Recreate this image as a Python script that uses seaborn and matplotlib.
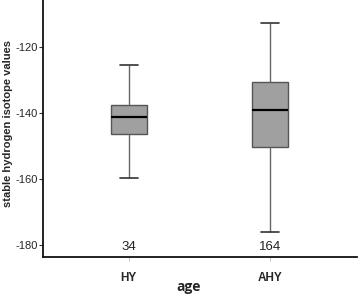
import pandas as pd
import numpy as np
import matplotlib
matplotlib.use('Agg')
import matplotlib.pyplot as plt
import seaborn as sns

# five-number summaries (min, Q1, median, Q3, max)
groups = ['HY', 'AHY']
hy_values = [-159.7, -146.4, -141.2, -137.6, -125.5]
ahy_values = [-176.0, -150.3, -139.1, -130.6, -112.7]
counts = [34, 164]

df = pd.DataFrame({
    'age': ['HY'] * len(hy_values) + ['AHY'] * len(ahy_values),
    'value': hy_values + ahy_values,
})

sns.set_style('white')
plt.rcParams['font.family'] = ['Liberation Sans', 'DejaVu Sans']

fig = plt.figure(figsize=(3.58, 2.95), dpi=100)
ax = fig.add_axes([0.120, 0.129, 0.877, 0.871])

sns.boxplot(data=df, x='age', y='value', order=groups, ax=ax,
            whis=(0, 100), width=0.255, color='#a0a0a0', saturation=1,
            linewidth=1.0, linecolor='#555555',
            medianprops=dict(color='black', linewidth=1.6),
            whiskerprops=dict(color='#666666', linewidth=1.0),
            capprops=dict(color='#333333', linewidth=1.2),
            boxprops=dict(edgecolor='#555555', facecolor='#a0a0a0'))

for i, n in enumerate(counts):
    ax.text(i, -180.6, str(n), ha='center', va='center', fontsize=9.5, color='#222222')

ax.set_xlim(-0.61, 1.62)
ax.set_ylim(-183.6, -105.8)
ax.set_yticks([-180, -160, -140, -120])
ax.set_yticklabels(['-180', '-160', '-140', '-120'], fontsize=8)
ax.set_xticks([0, 1])
ax.set_xticklabels(groups, fontsize=8.5, fontweight='bold')
ax.tick_params(axis='y', length=3, width=0.8, color='#333333', pad=1, left=True)
ax.tick_params(axis='x', length=3, width=0.5, color='#aaaaaa', pad=8, bottom=True)

ax.set_ylabel('stable hydrogen isotope values', fontsize=8, fontweight='bold')
ax.yaxis.set_label_coords(-0.097, 0.52)
ax.set_xlabel('age', fontsize=10, fontweight='bold', family=['Open Sans', 'DejaVu Sans'])
ax.xaxis.set_label_coords(0.465, -0.088)

sns.despine(ax=ax, top=True, right=True)
for side in ['left', 'bottom']:
    ax.spines[side].set_linewidth(1.3)
    ax.spines[side].set_color('#111111')

fig.savefig('out.png', dpi=100)
